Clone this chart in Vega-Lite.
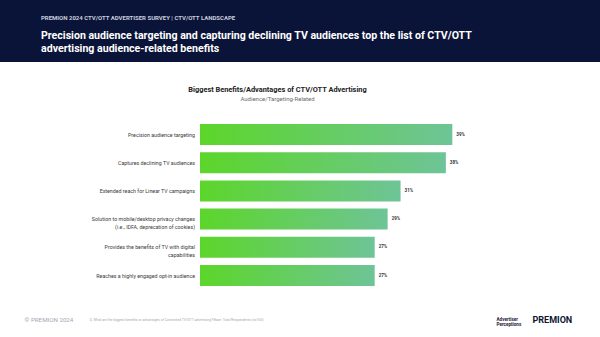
{
  "$schema": "https://vega.github.io/schema/vega-lite/v6.json",
  "autosize": "none",
  "width": 600,
  "height": 275,
  "padding": {"top": 62, "left": 0, "right": 0, "bottom": 0},
  "background": "#0a1438",
  "title": {
    "text": "PREMION 2024 CTV/OTT ADVERTISER SURVEY | CTV/OTT LANDSCAPE",
    "subtitle": ["Precision audience targeting and capturing declining TV audiences top the list of CTV/OTT", "advertising audience-related benefits"],
    "anchor": "start",
    "frame": "group",
    "orient": "top",
    "dx": 41,
    "offset": 7,
    "font": "Roboto",
    "fontSize": 6,
    "fontWeight": "bold",
    "color": "#c9cede",
    "subtitleFont": "Roboto",
    "subtitleFontSize": 10.6,
    "subtitleFontWeight": "bold",
    "subtitleColor": "#ffffff",
    "subtitleLineHeight": 13.5,
    "subtitlePadding": 9.5
  },
  "data": {
    "values": [
      {"label": "Precision audience targeting", "pct": 0.39},
      {"label": "Captures declining TV audiences", "pct": 0.38},
      {"label": "Extended reach for Linear TV campaigns", "pct": 0.31},
      {"label": "Solution to mobile/desktop privacy changes\n(i.e., IDFA, deprecation of cookies)", "pct": 0.29},
      {"label": "Provides the benefits of TV with digital\ncapabilities", "pct": 0.27},
      {"label": "Reaches a highly engaged opt-in audience", "pct": 0.27}
    ]
  },
  "resolve": {"axis": {"x": "independent", "y": "independent"}},
  "layer": [
    {
      "mark": {
        "type": "bar",
        "color": {
          "gradient": "linear",
          "x1": 0, "y1": 0, "x2": 1, "y2": 0,
          "stops": [
            {"offset": 0, "color": "#5cd62a"},
            {"offset": 1, "color": "#6ec497"}
          ]
        }
      },
      "encoding": {
        "y": {
          "field": "label", "type": "nominal", "sort": null,
          "scale": {"range": [58.4, 227.6], "paddingInner": 0.255, "paddingOuter": 0.1275},
          "axis": {
            "orient": "left",
            "title": "Audience/Targeting-Related",
            "titleAngle": 0, "titleX": 277, "titleY": 36,
            "titleAlign": "center", "titleBaseline": "middle",
            "titleFont": "Roboto", "titleFontSize": 6, "titleFontWeight": "normal", "titleColor": "#6b6b6b"
          }
        },
        "x": {
          "field": "pct", "type": "quantitative",
          "scale": {"domain": [0, 0.4], "range": [200, 458.8], "nice": false, "zero": true},
          "axis": {
            "orient": "top",
            "title": "Biggest Benefits/Advantages of CTV/OTT Advertising",
            "titleX": 277, "titleY": 27,
            "titleAlign": "center", "titleBaseline": "middle",
            "titleFont": "Roboto", "titleFontSize": 7.4, "titleFontWeight": "bold", "titleColor": "#222222"
          }
        }
      }
    },
    {
      "mark": {"type": "text", "align": "right", "baseline": "middle", "dx": -5, "font": "Roboto", "fontSize": 5.3, "color": "#3a3a3a", "lineBreak": "\n", "lineHeight": 7.7},
      "encoding": {
        "y": {
          "field": "label", "type": "nominal", "sort": null,
          "axis": {
            "orient": "left",
            "title": "Q. What are the biggest benefits or advantages of Connected TV/OTT advertising? Base: Total Respondents (n=160)",
            "titleAngle": 0, "titleX": 89, "titleY": 257,
            "titleAlign": "left", "titleBaseline": "middle",
            "titleFont": "Roboto", "titleFontSize": 3.4, "titleFontWeight": "normal", "titleColor": "#a3a8b4"
          }
        },
        "x": {
          "datum": 0, "type": "quantitative",
          "axis": {
            "orient": "bottom",
            "title": "© PREMION 2024",
            "titleX": 24, "titleY": -18,
            "titleAlign": "left", "titleBaseline": "middle",
            "titleFont": "Roboto", "titleFontSize": 6.2, "titleFontWeight": "normal", "titleColor": "#a3a8b4"
          }
        },
        "text": {"field": "label", "type": "nominal"}
      }
    },
    {
      "mark": {"type": "text", "align": "left", "baseline": "middle", "dx": 4, "font": "Roboto", "fontSize": 4.5, "fontWeight": "bold", "color": "#333333"},
      "encoding": {
        "y": {
          "field": "label", "type": "nominal", "sort": null,
          "axis": {
            "orient": "right",
            "title": ["Advertiser", "Perceptions"],
            "titleAngle": 0, "titleX": -104, "titleY": 257,
            "titleAlign": "left", "titleBaseline": "middle", "titleLineHeight": 5.5,
            "titleFont": "Roboto", "titleFontSize": 4.6, "titleFontWeight": "bold", "titleColor": "#1b2036"
          }
        },
        "x": {
          "field": "pct", "type": "quantitative",
          "axis": {
            "orient": "bottom",
            "title": "PREMION",
            "titleX": 532, "titleY": -18,
            "titleAlign": "left", "titleBaseline": "middle",
            "titleFont": "Roboto", "titleFontSize": 9, "titleFontWeight": "bold", "titleColor": "#0d1533"
          }
        },
        "text": {"field": "pct", "type": "quantitative", "format": ".0%"}
      }
    }
  ],
  "config": {
    "view": {"fill": "#ffffff", "stroke": null},
    "axis": {"grid": false, "domain": false, "ticks": false, "labels": false, "titleLimit": 1000, "titlePadding": 0}
  }
}
